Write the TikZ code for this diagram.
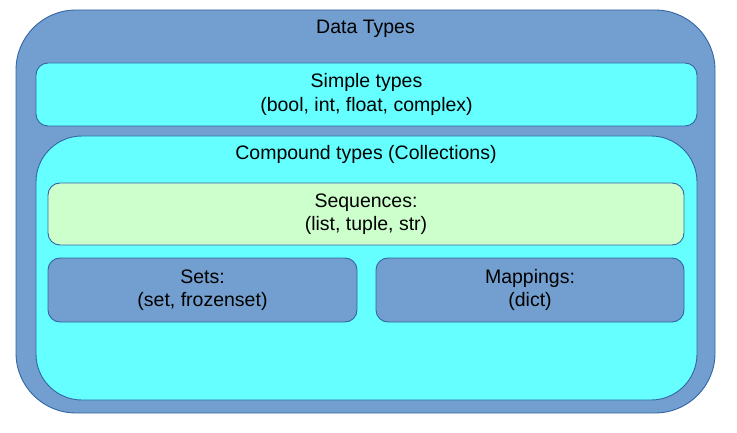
\documentclass[tikz,border=0pt]{standalone}
\usepackage{fontspec}
\setmainfont{Liberation Sans}
\usepackage{tikz}

\definecolor{boxblue}{HTML}{729FCF}
\definecolor{boxcyan}{HTML}{66FFFF}
\definecolor{boxgreen}{HTML}{CCFFCC}
\definecolor{edgeblue}{HTML}{3465A4}

\tikzset{
    box/.style={draw=edgeblue, line width=0.9pt, rectangle, inner sep=0pt, outer sep=0pt,
        align=center, font=\fontsize{19.5}{23.5}\selectfont},
    title/.style={anchor=base, inner sep=0pt, font=\fontsize{19.5}{23.5}\selectfont}
}

\begin{document}
\begin{tikzpicture}[x=1pt, y=-1pt]
    \useasboundingbox (0, 0) rectangle (737, 433);

    \node[box, fill=boxblue, rounded corners=60pt, minimum width=699pt, minimum height=403pt] at (365.5, 211.5) (datatypes) {};
    \node[title] at (365.5, 34) (datatitle) {Data Types};

    \node[box, fill=boxcyan, rounded corners=12pt, minimum width=661pt, minimum height=63pt] at (366.5, 94.5) (simple) {Simple types\\(bool, int, float, complex)};

    \node[box, fill=boxcyan, rounded corners=46pt, minimum width=661pt, minimum height=264pt] at (366.5, 268) (compound) {};
    \node[title] at (366, 160) (compoundtitle) {Compound types (Collections)};

    \node[box, fill=boxgreen, rounded corners=12pt, minimum width=636pt, minimum height=62pt] at (366, 214) (sequences) {Sequences:\\(list, tuple, str)};
    \node[box, fill=boxblue, rounded corners=12pt, minimum width=309pt, minimum height=64pt] at (202.5, 290) (sets) {Sets:\\(set, frozenset)};
    \node[box, fill=boxblue, rounded corners=12pt, minimum width=308pt, minimum height=64pt] at (530, 290) (mappings) {Mappings:\\(dict)};
\end{tikzpicture}
\end{document}
